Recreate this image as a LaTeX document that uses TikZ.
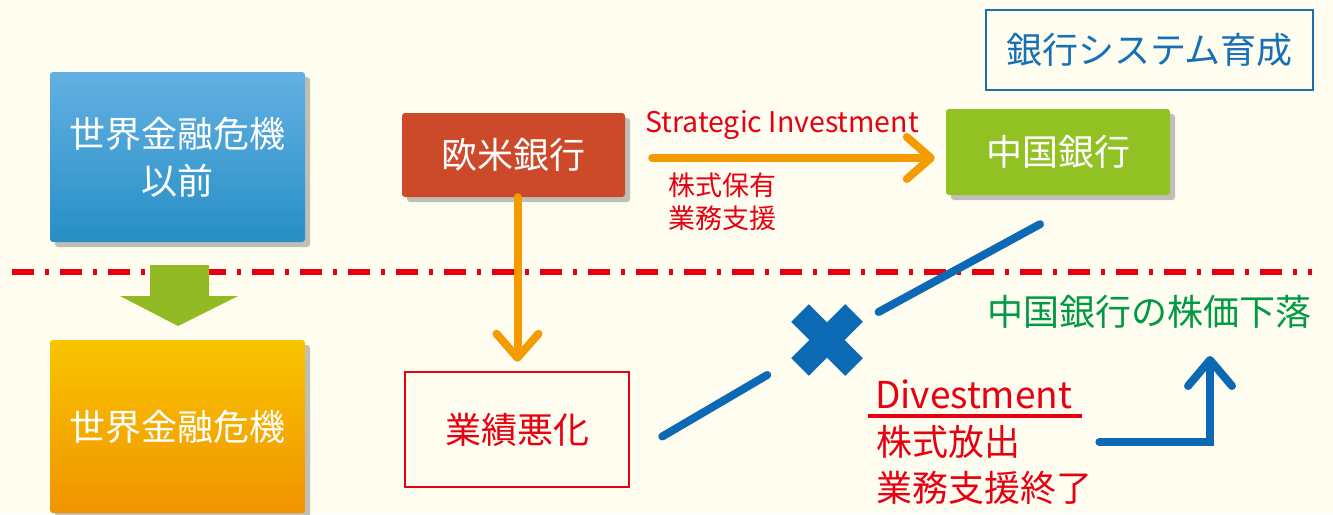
\documentclass[tikz,border=0pt]{standalone}
\usepackage{fontspec}
\setmainfont{Noto Sans CJK JP}
\usetikzlibrary{arrows.meta,shadows,shapes.misc}

\definecolor{bgcream}{RGB}{255,253,240}
\definecolor{blueTop}{RGB}{100,176,226}
\definecolor{blueBot}{RGB}{38,143,198}
\definecolor{orangeTop}{RGB}{249,196,0}
\definecolor{orangeBot}{RGB}{240,148,0}
\definecolor{bankred}{RGB}{204,74,42}
\definecolor{bankgreen}{RGB}{146,193,35}
\definecolor{arrowgreen}{RGB}{146,186,36}
\definecolor{arroworange}{RGB}{243,155,0}
\definecolor{labelred}{RGB}{230,0,18}
\definecolor{lineblue}{RGB}{12,106,180}
\definecolor{titleblue}{RGB}{22,112,182}
\definecolor{kabugreen}{RGB}{0,153,68}

\begin{document}
\begin{tikzpicture}[x=1pt,y=-1pt,
  bigtext/.style={font=\fontsize{36}{47}\selectfont},
  smalltext/.style={font=\fontsize{27}{33}\selectfont,text=labelred,inner sep=0pt},
  colbox/.style={rounded corners=3pt,inner sep=0pt,align=center,text=white,bigtext,
    drop shadow={shadow xshift=5pt,shadow yshift=-5pt,fill=black!70,opacity=.35}},
  linebox/.style={draw=#1,line width=2.5pt,inner sep=0pt,text=#1,bigtext},
  orarrow/.style={draw=arroworange,line width=8pt,line cap=round,
    -{Straight Barb[length=24pt,width=42pt,round]}},
  bluestroke/.style={draw=lineblue,line width=8pt,line cap=round}]
  \useasboundingbox (0,0) rectangle (1333,514);
  \fill[bgcream] (0,0) rectangle (1333,514);

  % border between before / after the crisis
  \draw[labelred,line width=6pt,dash pattern=on 22pt off 11pt on 4pt off 11pt] (12,272) -- (1312,272);

  % left column
  \node[colbox,minimum width=255,minimum height=170,top color=blueTop,bottom color=blueBot] (before) at (177.5,157) {世界金融危機\\以前};
  \node[colbox,minimum width=255,minimum height=173,top color=orangeTop,bottom color=orangeBot] (crisis) at (177.5,426.5) {世界金融危機};
  \fill[arrowgreen] (150,265) -- (209,265) -- (209,296) -- (238,296) -- (178,326) -- (120,296) -- (150,296) -- cycle;

  % banks
  \node[colbox,minimum width=223,minimum height=84,fill=bankred] (oubei) at (513.5,155) {欧米銀行};
  \node[colbox,minimum width=224,minimum height=86,fill=bankgreen] (chugoku) at (1058,152) {中国銀行};
  \node[linebox=titleblue,minimum width=327,minimum height=80] (ikusei) at (1149.5,50) {銀行システム育成};
  \node[linebox=labelred,minimum width=224,minimum height=115] (gyoseki) at (517,429.5) {業績悪化};

  \draw[orarrow] ([xshift=27pt,yshift=-3pt]oubei.east) -- ([xshift=-11pt,yshift=-3pt]oubei.east -| chugoku.west);
  \draw[orarrow] ([xshift=4pt]oubei.south) -- ([xshift=4pt,yshift=9pt]oubei.south |- gyoseki.north);
  \node[smalltext,font=\fontsize{28.5}{32}\selectfont] (strategic) at (782,125) {Strategic Investment};
  \node[smalltext,anchor=west] (hoyu) at (668,185) {株式保有};
  \node[smalltext,anchor=west] (shien) at (668,218) {業務支援};

  % broken link
  \coordinate (b1) at ([shift={(32,7)}]gyoseki.east);
  \coordinate (b2) at ([shift={(-18,29)}]chugoku.south);
  \node[cross out,draw=lineblue,line width=25pt,minimum size=54pt,inner sep=0pt,outer sep=0pt] (batsu) at (827,340) {};
  \draw[bluestroke,shorten >=38pt] (b1) -- (batsu);
  \draw[bluestroke,shorten <=28pt] (batsu) -- (b2);

  % after the crisis
  \node[bigtext,text=kabugreen,inner sep=0pt] (kabuka) at (1149,312) {中国銀行の株価下落};
  \node[bigtext,font=\fontsize{37}{42}\selectfont,text=labelred,inner sep=0pt,anchor=base west] (divest) at (875,408) {Divestment};
  \draw[labelred,line width=4pt] ([shift={(-7,8)}]divest.base west) -- ([shift={(10,8)}]divest.base east);
  \node[bigtext,text=labelred,inner sep=0pt,anchor=west] (houshutsu) at (876,442) {株式放出};
  \node[bigtext,text=labelred,inner sep=0pt,anchor=west] (shuryo) at (876,488) {業務支援終了};
  \coordinate (kabutip) at (1210,356);
  \draw[bluestroke,-{Straight Barb[length=26pt,width=44pt,round]}] ([xshift=79pt]houshutsu.east) -| (kabutip);
\end{tikzpicture}
\end{document}
